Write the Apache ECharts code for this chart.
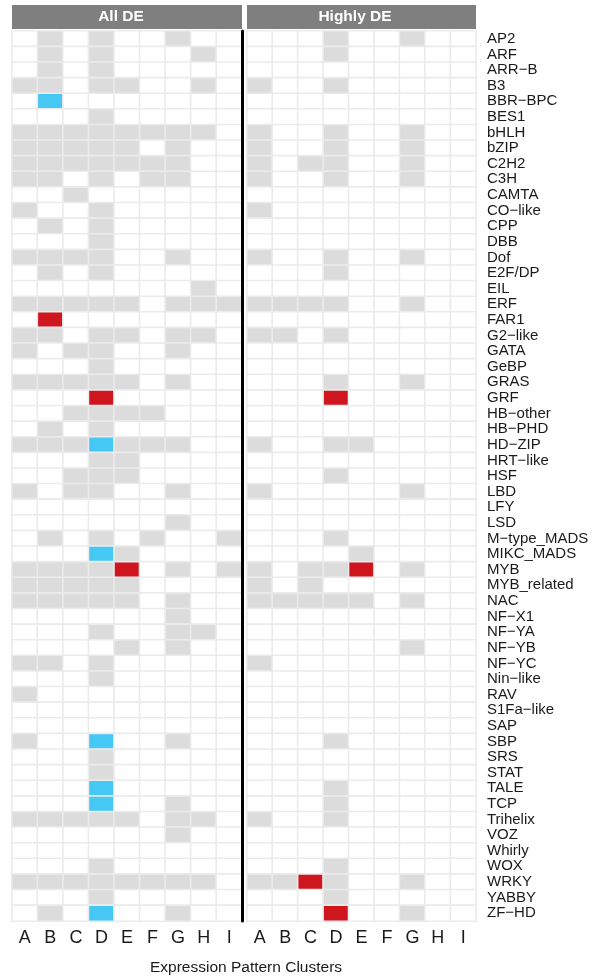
<!DOCTYPE html>
<html>
<head>
<meta charset="utf-8">
<title>TF families by expression cluster</title>
<script src="https://cdn.jsdelivr.net/npm/echarts@6/dist/echarts.min.js"></script>
<style>
  html, body { margin: 0; padding: 0; background: #fff; }
  #chart { width: 598px; height: 978px; }
</style>
</head>
<body>
<div id="chart"></div>
<script>
// clusters on x axis
let clusters = ['A', 'B', 'C', 'D', 'E', 'F', 'G', 'H', 'I'];
// TF families, top to bottom
let families = ['AP2', 'ARF', 'ARR\u2212B', 'B3', 'BBR\u2212BPC', 'BES1', 'bHLH', 'bZIP', 'C2H2', 'C3H',
  'CAMTA', 'CO\u2212like', 'CPP', 'DBB', 'Dof', 'E2F/DP', 'EIL', 'ERF', 'FAR1', 'G2\u2212like',
  'GATA', 'GeBP', 'GRAS', 'GRF', 'HB\u2212other', 'HB\u2212PHD', 'HD\u2212ZIP', 'HRT\u2212like', 'HSF', 'LBD',
  'LFY', 'LSD', 'M\u2212type_MADS', 'MIKC_MADS', 'MYB', 'MYB_related', 'NAC', 'NF\u2212X1', 'NF\u2212YA', 'NF\u2212YB',
  'NF\u2212YC', 'Nin\u2212like', 'RAV', 'S1Fa\u2212like', 'SAP', 'SBP', 'SRS', 'STAT', 'TALE', 'TCP',
  'Trihelix', 'VOZ', 'Whirly', 'WOX', 'WRKY', 'YABBY', 'ZF\u2212HD'];
// one string per family, one digit per cluster A..I
// 0 = absent, 1 = present, 2 = enriched (blue), 3 = enriched (red)
let allDE = ['010100100', '010100010', '010100000', '110110010', '020000000', '000100000', '111111110', '111110100', '111111100', '110101100',
  '001000000', '100100000', '010100000', '000100000', '111100100', '010100000', '000000010', '111110111', '030000000', '110110110',
  '101100100', '000100000', '111110100', '000300000', '001111000', '010100000', '111211100', '000110000', '001110000', '101100100',
  '000000000', '000000100', '010101001', '000210000', '111130101', '111110000', '111110100', '000000100', '000100110', '000010100',
  '110100000', '000100000', '100000000', '000000000', '000000000', '100200100', '000100000', '000100000', '000200000', '000200100',
  '111110110', '000000100', '000000000', '000100000', '111111110', '000100000', '010200100'];
let highlyDE = ['000100100', '000100000', '000000000', '100100000', '000000000', '000000000', '100100100', '100100100', '101100100', '100100100',
  '000000000', '100000000', '000000000', '000000000', '100100100', '000100000', '000000000', '111100100', '000000000', '110100000',
  '000000000', '000000000', '000100100', '000300000', '000000000', '000000000', '100110000', '000000000', '000100000', '100000100',
  '000000000', '000000000', '000100000', '000010000', '101130100', '101000000', '111110100', '000000000', '000000000', '000000100',
  '100000000', '000000000', '000000000', '000000000', '000000000', '000100000', '000000000', '000000000', '000100000', '000100000',
  '100100000', '000000000', '000000000', '000100000', '113100100', '000100000', '000300100'];
let panels = ['All DE', 'Highly DE'];

function toCells(rows) {
  let out = [];
  for (let r = 0; r < rows.length; r++) {
    for (let c = 0; c < clusters.length; c++) {
      out.push([c, r, Number(rows[r][c])]);
    }
  }
  return out;
}

let fontFam = 'Liberation Sans, Arial, sans-serif';
let gridTop = 31, gridH = 890;
let grids = [
  { left: 12, top: gridTop, width: 230, height: gridH },
  { left: 247, top: gridTop, width: 229, height: gridH }
];

function xAxisFor(i) {
  return {
    type: 'category', gridIndex: i, data: clusters,
    axisLine: { show: false }, axisTick: { show: false }, splitLine: { show: false },
    axisLabel: { color: '#1a1a1a', fontSize: 18, fontFamily: fontFam, margin: 8, interval: 0 }
  };
}

let option = {
  backgroundColor: '#fff',
  animation: false,
  grid: grids,
  xAxis: [xAxisFor(0), xAxisFor(1)],
  yAxis: [
    {
      // left panel: only its right edge is drawn, as the thick black divider
      type: 'category', gridIndex: 0, data: families, inverse: true, position: 'right', z: 10,
      axisLine: { show: true, lineStyle: { color: '#000', width: 3 } },
      axisTick: { show: false }, axisLabel: { show: false }, splitLine: { show: false }
    },
    {
      type: 'category', gridIndex: 1, data: families, inverse: true, position: 'right',
      axisLine: { show: false }, axisTick: { show: false }, splitLine: { show: false },
      axisLabel: { color: '#1a1a1a', fontSize: 15, fontFamily: fontFam, margin: 11, interval: 0 }
    }
  ],
  visualMap: {
    type: 'piecewise', show: false, seriesIndex: [0, 1], dimension: 2,
    pieces: [
      { value: 0, color: '#ffffff' },
      { value: 1, color: '#dcdcdc' },
      { value: 2, color: '#45c8f4' },
      { value: 3, color: '#cf161e' }
    ]
  },
  series: [
    {
      type: 'heatmap', xAxisIndex: 0, yAxisIndex: 0, data: toCells(allDE),
      itemStyle: { borderColor: '#ebebeb', borderWidth: 1.6 }
    },
    {
      type: 'heatmap', xAxisIndex: 1, yAxisIndex: 1, data: toCells(highlyDE),
      itemStyle: { borderColor: '#ebebeb', borderWidth: 1.6 }
    }
  ],
  graphic: [
    // facet strips
    { type: 'rect', shape: { x: 12, y: 5, width: 230, height: 24 }, style: { fill: '#7f7f7f' } },
    { type: 'text', x: 121, y: 17, style: { text: panels[0], fill: '#fff', font: 'bold 15.5px ' + fontFam, align: 'center', verticalAlign: 'middle' } },
    { type: 'rect', shape: { x: 247, y: 5, width: 229, height: 24 }, style: { fill: '#7f7f7f' } },
    { type: 'text', x: 355, y: 17, style: { text: panels[1], fill: '#fff', font: 'bold 15.5px ' + fontFam, align: 'center', verticalAlign: 'middle' } },
    // x axis title
    { type: 'text', x: 246, y: 968, style: { text: 'Expression Pattern Clusters', fill: '#1a1a1a', font: '15.5px ' + fontFam, align: 'center', verticalAlign: 'middle' } }
  ]
};

let myChart = echarts.init(document.getElementById('chart'));
myChart.setOption(option);

window.addEventListener('resize', function () {
  myChart.resize();
});
</script>
</body>
</html>
